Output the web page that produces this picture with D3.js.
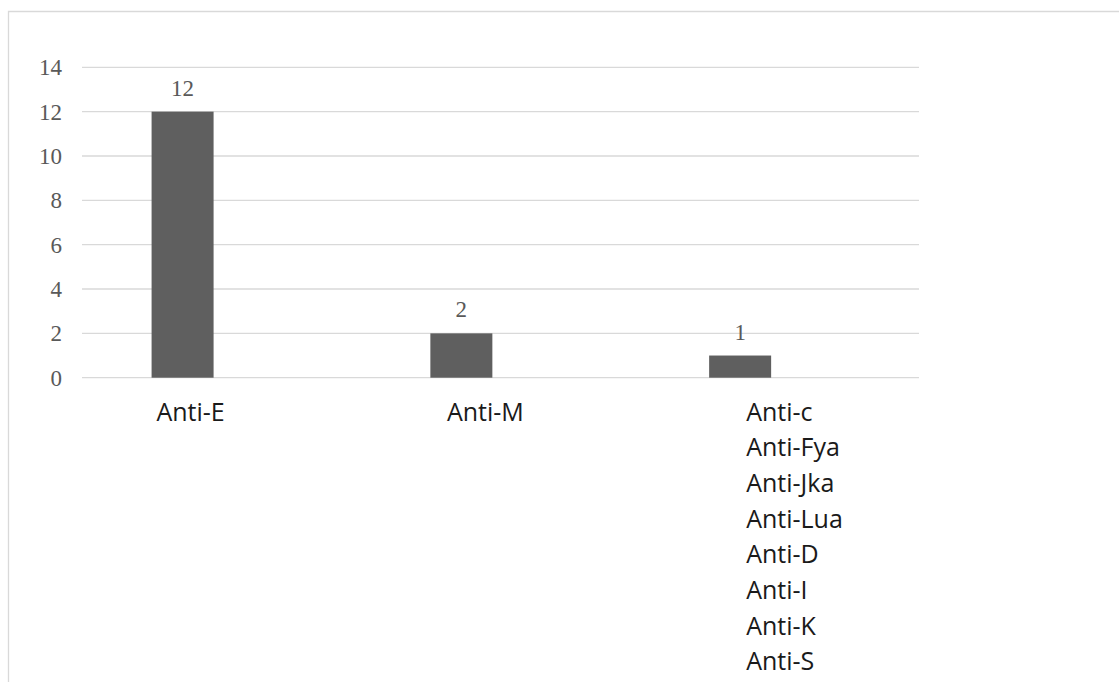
<!DOCTYPE html>
<html>
<head>
<meta charset="utf-8">
<script src="https://cdn.jsdelivr.net/npm/d3@7"></script>
<style>
  html, body { margin: 0; padding: 0; background: #ffffff; }
  svg { display: block; }
</style>
</head>
<body>
<svg id="chart" width="1119" height="682"></svg>
<script>
// Antibody counts
const categories = ["Anti-E", "Anti-M", "Anti-c"];
const counts = [12, 2, 1];
const categoryLabels = [
  ["Anti-E"],
  ["Anti-M"],
  ["Anti-c", "Anti-Fya", "Anti-Jka", "Anti-Lua", "Anti-D", "Anti-I", "Anti-K", "Anti-S"]
];
const yTicks = [0, 2, 4, 6, 8, 10, 12, 14];

// Layout
const W = 1119, H = 682;
const plot = { left: 82, right: 919, top: 67.3, bottom: 377.7 };
const labelShift = [8, 24, 6];          // horizontal nudge of each category label
const labelAnchor = ["middle", "middle", "start"];
const lineGap = 35.7;

const svg = d3.select("#chart");

// Outer frame (top and left edges visible)
svg.append("path")
  .attr("d", `M8.5,${H} V11.5 H${W}`)
  .attr("fill", "none")
  .attr("stroke", "#d9d9d9")
  .attr("stroke-width", 1.3);

const x = d3.scaleBand()
  .domain(categories)
  .range([plot.left, plot.right])
  .paddingInner(0.7776)
  .paddingOuter(0.39)
  .align(0.32);

const y = d3.scaleLinear()
  .domain([0, 14])
  .range([plot.bottom, plot.top]);

// Gridlines
svg.append("g")
  .selectAll("line")
  .data(yTicks)
  .join("line")
  .attr("x1", plot.left)
  .attr("x2", plot.right)
  .attr("y1", d => y(d))
  .attr("y2", d => y(d))
  .attr("stroke", "#d9d9d9")
  .attr("stroke-width", 1.3);

// Y axis labels
const yAxis = d3.axisLeft(y).tickValues(yTicks).tickSize(0).tickPadding(20);
const yg = svg.append("g")
  .attr("transform", `translate(${plot.left},0)`)
  .call(yAxis);
yg.select(".domain").remove();
yg.selectAll("text")
  .attr("font-family", "'Liberation Serif', 'Times New Roman', serif")
  .attr("font-size", 23)
  .attr("fill", "#595959");

// Bars
svg.append("g")
  .selectAll("rect")
  .data(categories)
  .join("rect")
  .attr("x", d => x(d))
  .attr("y", (d, i) => y(counts[i]))
  .attr("width", x.bandwidth())
  .attr("height", (d, i) => y(0) - y(counts[i]))
  .attr("fill", "#5f5f5f");

// Value labels
svg.append("g")
  .selectAll("text")
  .data(categories)
  .join("text")
  .attr("x", d => x(d) + x.bandwidth() / 2)
  .attr("y", (d, i) => y(counts[i]) - 16)
  .attr("text-anchor", "middle")
  .attr("font-family", "'Liberation Serif', 'Times New Roman', serif")
  .attr("font-size", 23)
  .attr("fill", "#595959")
  .text((d, i) => counts[i]);

// Category labels
const cat = svg.append("g")
  .selectAll("text")
  .data(categories)
  .join("text")
  .attr("x", (d, i) => x(d) + x.bandwidth() / 2 + labelShift[i])
  .attr("y", 420.5)
  .attr("text-anchor", (d, i) => labelAnchor[i])
  .attr("font-family", "'Open Sans', 'Noto Sans', sans-serif")
  .attr("font-size", 25)
  .attr("fill", "#1a1a1a");

cat.each(function (d, i) {
  const t = d3.select(this);
  const xPos = t.attr("x");
  categoryLabels[i].forEach((line, k) => {
    t.append("tspan")
      .attr("x", xPos)
      .attr("dy", k === 0 ? 0 : lineGap)
      .text(line);
  });
});
</script>
</body>
</html>
